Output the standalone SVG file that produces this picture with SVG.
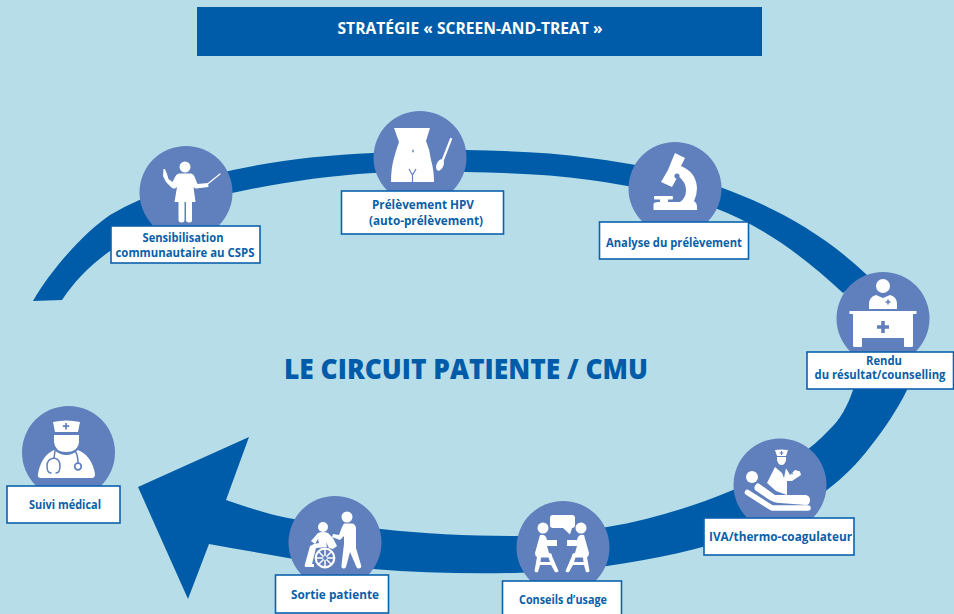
<svg xmlns="http://www.w3.org/2000/svg" width="954" height="614" viewBox="0 0 954 614">
<style>
.c{fill:#607fbd}
.w{fill:#fff}
.l{fill:#fff;stroke:#0c62ad;stroke-width:1.6}
.t{font-family:"Open Sans","Liberation Sans",sans-serif;font-weight:700;font-size:11.9px;fill:#0a5fa9;text-anchor:middle}
.b{fill:none;stroke:#607fbd;stroke-linecap:round}
.g{fill:none;stroke:#fff;stroke-linecap:round;stroke-linejoin:round}
</style>
<rect width="954" height="614" fill="#b7dde8"/>
<g id="header">
<rect x="197" y="7" width="565" height="49" fill="#005ca8"/>
<text x="470" y="34" font-family="Open Sans, Liberation Sans, sans-serif" font-weight="700" font-size="16.500" fill="#fff" text-anchor="middle" textLength="265" lengthAdjust="spacingAndGlyphs">STRATÉGIE « SCREEN-AND-TREAT »</text>
</g>
<g id="connectors" fill="#005ca8">
<path d="M33,301 C52,268 85,232 110,215 C150,192 190,180 233,170 C280,160 325,155 373,153 C405,150 435,149 466,150 C510,151 550,152 590,158 C635,164 680,172 720,187 C775,207 825,235 867,275 L843,293 C805,258 765,227 715,208 C675,194 632,186 590,180 C550,174 508,173 466,172 C435,171 405,172 373,173 C325,176 278,183 232,193 C190,204 148,226 110,251 C90,265 74,282 62,300 Z"/>
<path d="M865,355 L853,390 C848,405 840,420 829,430 C805,456 770,476 733,490 C692,507 650,520 607,527 C577,532 545,536 515,536 C470,536 425,534 381,529 C350,526 318,524 288,518 C268,514 246,507 226,500 L249,437 L138,487 L188,599 L209,544 C235,549 262,553 288,558 C316,563 345,567 373,569 C420,573 468,574 515,573 C547,572 577,570 607,566 C655,559 700,550 740,535 C772,523 802,510 827,490 C843,478 858,463 870,447 C885,428 897,410 907,390 L915,355 Z"/>
</g>
<g id="title"><text x="466" y="379" font-family="Open Sans, Liberation Sans, sans-serif" font-weight="800" font-size="28" fill="#005ca8" text-anchor="middle" textLength="364" lengthAdjust="spacingAndGlyphs">LE CIRCUIT PATIENTE / CMU</text></g>

<g id="sensibilisation">
<circle class="c" cx="186" cy="192.500" r="46.500"/>
<circle class="w" cx="185" cy="167" r="5.500"/>
<path class="w" d="M179,173.500 H191 Q194,174 195,178 L197.500,184 L208,183 L208.500,187 L196,188.500 Q194,188 193.500,187 L195.500,202 H192 V220 Q192,222.500 189.500,222.500 Q186,222.500 186,220 V202 H184.500 V220 Q184.500,222.500 181.500,222.500 Q178.500,222.500 178.500,220 V202 H174.500 L177,187 Q174,190 171,187 L166,182 L163,176 L163.500,169 H165 L167,174 L168.500,179 L172.500,182 L175,177 Q176,174 179,173.500 Z"/>
<path class="g" stroke-width="1.200" d="M207,184.500 L220,174"/>
<rect class="l" x="111" y="226" width="149" height="37"/>
<text class="t" x="183" y="242" textLength="81" lengthAdjust="spacingAndGlyphs">Sensibilisation</text>
<text class="t" x="185" y="257" textLength="139" lengthAdjust="spacingAndGlyphs">communautaire au CSPS</text>
</g>

<g id="prelevement">
<circle class="c" cx="420" cy="157.500" r="46.500"/>
<path class="w" d="M394,128 H430 L426,141 Q430,150 431,160 Q434,170 434,182 H391 Q391,168 394,158 Q396,150 399,142 Z"/>
<path d="M409,169 L412.500,175 L416,169 M412.500,175 V182" fill="none" stroke="#607fbd" stroke-width="1.200"/>
<ellipse cx="413" cy="151" rx=".8" ry="1.600" fill="#607fbd"/>
<path class="g" stroke-width="2.200" d="M451,139 L442,162"/>
<ellipse class="w" cx="440" cy="165" rx="3.500" ry="6" transform="rotate(22 440 165)"/>
<rect class="l" x="341.500" y="191" width="162" height="43"/>
<text class="t" x="423" y="209" textLength="102" lengthAdjust="spacingAndGlyphs">Prélèvement HPV</text>
<text class="t" x="426" y="225" textLength="114" lengthAdjust="spacingAndGlyphs">(auto-prélèvement)</text>
</g>

<g id="analyse">
<circle class="c" cx="675" cy="188.500" r="46.500"/>
<path class="w" d="M675,153 L685,158 L681,166 Q696,172 697,188 Q697,195 694,201 Q697,203 697,207 V210 H653.500 V204 Q654,202 658,202 H680 Q686,198 686,190 Q686,182 678,176 L672,187 L661,182 L668,170 L672,160 Z"/>
<circle cx="677" cy="176" r="2.600" fill="#607fbd"/>
<rect class="w" x="654" y="196" width="19" height="3.500" rx="1"/>
<rect class="w" x="660" y="198" width="8" height="5"/>
<rect class="l" x="599.500" y="222" width="149" height="37"/>
<text class="t" x="674" y="247" textLength="136" lengthAdjust="spacingAndGlyphs">Analyse du prélèvement</text>
</g>

<g id="rendu">
<circle class="c" cx="883" cy="318.500" r="46.500"/>
<circle class="w" cx="883" cy="286" r="7"/>
<path class="w" d="M869,309 V304 Q869,297 876,295 L883,298 L890,295 Q897,297 897,304 V309 Z"/>
<path d="M888,299.500 V304.500 M885.500,302 H890.500" stroke="#607fbd" stroke-width="1.500"/>
<path class="w" d="M849.500,311 H916.500 V314 H913 V346 Q913,347 911,347 H905 Q904,347 904,346 V338 H862 V346 Q862,347 861,347 H855 Q853,347 853,346 V314 H849.500 Z"/>
<path d="M883,321 V333 M877,327 H889" stroke="#607fbd" stroke-width="3.500"/>
<rect class="l" x="807" y="352" width="146.500" height="37"/>
<text class="t" x="884" y="365" textLength="36" lengthAdjust="spacingAndGlyphs">Rendu</text>
<text class="t" x="880" y="379" textLength="131" lengthAdjust="spacingAndGlyphs">du résultat/counselling</text>
</g>

<g id="iva">
<circle class="c" cx="780" cy="485" r="46.500"/>
<path class="w" d="M775,450 Q781,449 788,450 L786,456 H777 Z"/>
<path d="M781.500,451 V455 M779.500,453 H783.500" stroke="#607fbd" stroke-width="1.200"/>
<path class="w" d="M777,457 H786 V460 Q785,465 781.500,465 Q778,465 777,460 Z"/>
<path class="w" d="M775,467 L782,473 L784,478 L786,468 L790,475 L795,470 L800,471.500 L801,475 L792,481 L787,481 L787,495 L776,491 L767,483 Z"/>
<path d="M785,467 Q790,473 793,474" fill="none" stroke="#607fbd" stroke-width="1"/>
<circle class="w" cx="752" cy="477" r="6"/>
<path class="w" d="M758,483 L775,495 L806,495 Q810,496 810,500 Q810,505 806,505 L780,503 Q774,503 768,499 L755,490 Q753,486 758,483 Z"/>
<path class="g" stroke-width="5.500" d="M747.500,492.500 L772,508 H808"/>
<rect class="l" x="704" y="518" width="150" height="37"/>
<text class="t" x="780.500" y="541" textLength="143" lengthAdjust="spacingAndGlyphs">IVA/thermo-coagulateur</text>
</g>

<g id="conseils">
<circle class="c" cx="563" cy="547.500" r="46.500"/>
<path class="w" d="M553,515 H572 Q575,515 575,518 V525 Q575,528 572,528 L570,534.500 L563,528 H553 Q550,528 550,525 V518 Q550,515 553,515 Z"/>
<g id="p1"><circle class="w" cx="543" cy="528" r="5.500"/>
<path class="w" fill-rule="evenodd" d="M540,535 Q546,534 547,540 H557 V546 H547 L549,553 Q552,553 552,556 L558.500,571 Q558,573 555,572 L551,565 H540 L538,572 Q535,573 534.500,571 L537,557 Q535,556 535,553 Z M541,557.500 H548.500 L550,562 H540.500 Z"/></g>
<g transform="translate(1124,0) scale(-1,1)"><circle class="w" cx="543" cy="528" r="5.500"/>
<path class="w" fill-rule="evenodd" d="M540,535 Q546,534 547,540 H557 V546 H547 L549,553 Q552,553 552,556 L558.500,571 Q558,573 555,572 L551,565 H540 L538,572 Q535,573 534.500,571 L537,557 Q535,556 535,553 Z M541,557.500 H548.500 L550,562 H540.500 Z"/></g>
<rect class="l" x="502.500" y="581" width="119" height="34"/>
<text class="t" x="563" y="604" textLength="88" lengthAdjust="spacingAndGlyphs">Conseils d’usage</text>
</g>

<g id="sortie">
<circle class="c" cx="335" cy="542.500" r="46.500"/>
<circle class="w" cx="323" cy="527" r="5"/>
<circle class="w" cx="347" cy="517" r="5.500"/>
<path class="w" d="M344,523.500 H352 Q356,524 356,529 V548 L361,565 Q362,568 359,568.500 Q357,569 356,566 L350,552 L346,567 Q345,569 343,568.500 Q341,568 341.500,565 L344,544 L344,536 L340,540 L332,537 L333,534 L339,535 L342,527 Z"/>
<path class="w" d="M318,533 Q323,531 328,533 L333,538 L337,546 L333,549 L329,548 L326,542 L327,547 L316,548 L312,564 H314 V567 H306 Q304,567 305,564 L310,546 L314,544 L319,543 L318,539 L315,544 L311,541 Z"/>
<circle cx="325" cy="558" r="9.300" fill="none" stroke="#fff" stroke-width="2.200"/>
<path class="g" stroke-width="1.500" d="M325,549 V567 M316,558 H334 M318.500,551.500 L331.500,564.500 M331.500,551.500 L318.500,564.500"/>
<circle class="c" cx="325" cy="558" r="2"/>
<rect class="l" x="275.500" y="575" width="113" height="38"/>
<text class="t" x="335" y="599" textLength="88" lengthAdjust="spacingAndGlyphs">Sortie patiente</text>
</g>

<g id="suivi">
<circle class="c" cx="68.500" cy="452.500" r="46.500"/>
<path class="w" d="M53,422 Q66,419 80,422 L78,432 H55 Z"/>
<path d="M66,423 V429.500 M62.800,426.200 H69.200" stroke="#607fbd" stroke-width="1.700"/>
<path class="w" d="M54,435 H79 V442 Q78,452 66,452 Q55,452 54,442 Z"/>
<path class="w" d="M54,450 Q60,455 66,455 Q73,455 78,450 Q92,456 95,474 Q95,478 92,478 H41 Q37,478 38,474 Q41,456 54,450 Z"/>
<path class="b" stroke-width="1.500" d="M55,451 L54,458 Q47,459 47,466 Q47,473 51,473 M54,458 Q60,459 60,466 Q60,473 56,473 M75,451 Q78,455 78,463"/>
<circle cx="78" cy="466.500" r="3.300" fill="#fff" stroke="#607fbd" stroke-width="1.700"/>
<rect class="l" x="7" y="486" width="113" height="37"/>
<text class="t" x="65" y="509" textLength="72" lengthAdjust="spacingAndGlyphs">Suivi médical</text>
</g>
</svg>
